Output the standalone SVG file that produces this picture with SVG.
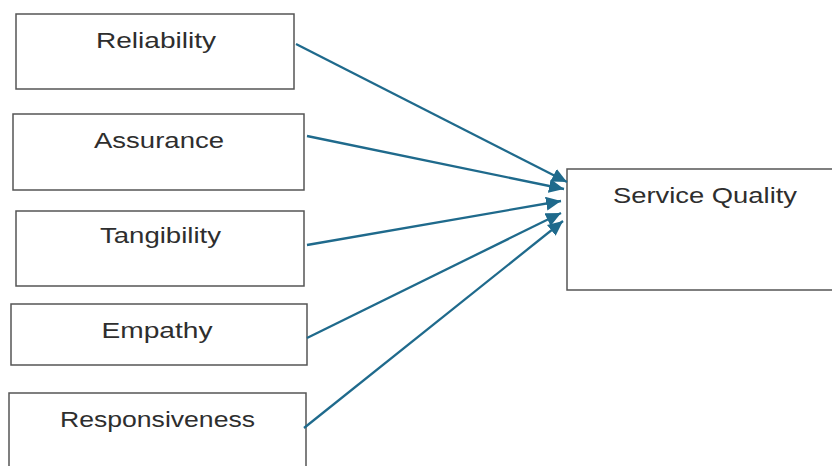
<svg xmlns="http://www.w3.org/2000/svg" width="832" height="466" viewBox="0 0 832 466">
  <defs>
    <style>
      .box { fill: #ffffff; stroke: #555555; stroke-width: 1.5; }
      .label { font-family: "Liberation Sans", Arial, sans-serif; font-size: 22px; fill: #2e2e2e; text-anchor: middle; }
      .link { fill: none; stroke: #1f6a8c; stroke-width: 2.3; marker-end: url(#head); }
    </style>
    <marker id="head" markerUnits="userSpaceOnUse" markerWidth="18" markerHeight="16" refX="15" refY="7" orient="auto">
      <path d="M0,0 L15,7 L0,14 Z" fill="#1f6a8c"/>
    </marker>
  </defs>
  <rect width="832" height="466" fill="#ffffff"/>

  <g id="reliability">
    <rect class="box" x="16" y="14" width="278" height="75"/>
    <text class="label" x="156" y="48" textLength="120" lengthAdjust="spacingAndGlyphs">Reliability</text>
  </g>
  <g id="assurance">
    <rect class="box" x="13" y="114" width="291" height="76"/>
    <text class="label" x="159" y="148" textLength="130" lengthAdjust="spacingAndGlyphs">Assurance</text>
  </g>
  <g id="tangibility">
    <rect class="box" x="16" y="211" width="288" height="75"/>
    <text class="label" x="160.5" y="243" textLength="121" lengthAdjust="spacingAndGlyphs">Tangibility</text>
  </g>
  <g id="empathy">
    <rect class="box" x="11" y="304" width="296" height="61"/>
    <text class="label" x="157" y="338" textLength="111" lengthAdjust="spacingAndGlyphs">Empathy</text>
  </g>
  <g id="responsiveness">
    <rect class="box" x="9" y="393" width="297" height="80"/>
    <text class="label" x="157.5" y="427" textLength="195" lengthAdjust="spacingAndGlyphs">Responsiveness</text>
  </g>
  <g id="service-quality">
    <rect class="box" x="567" y="169" width="270" height="121"/>
    <text class="label" x="705" y="203" textLength="184" lengthAdjust="spacingAndGlyphs">Service Quality</text>
  </g>

  <g id="connectors">
    <line class="link" x1="296" y1="44" x2="567" y2="182"/>
    <line class="link" x1="307" y1="136" x2="564" y2="189"/>
    <line class="link" x1="307" y1="245" x2="561" y2="201"/>
    <line class="link" x1="307" y1="338" x2="561" y2="213"/>
    <line class="link" x1="304" y1="428" x2="563" y2="221"/>
  </g>
</svg>
